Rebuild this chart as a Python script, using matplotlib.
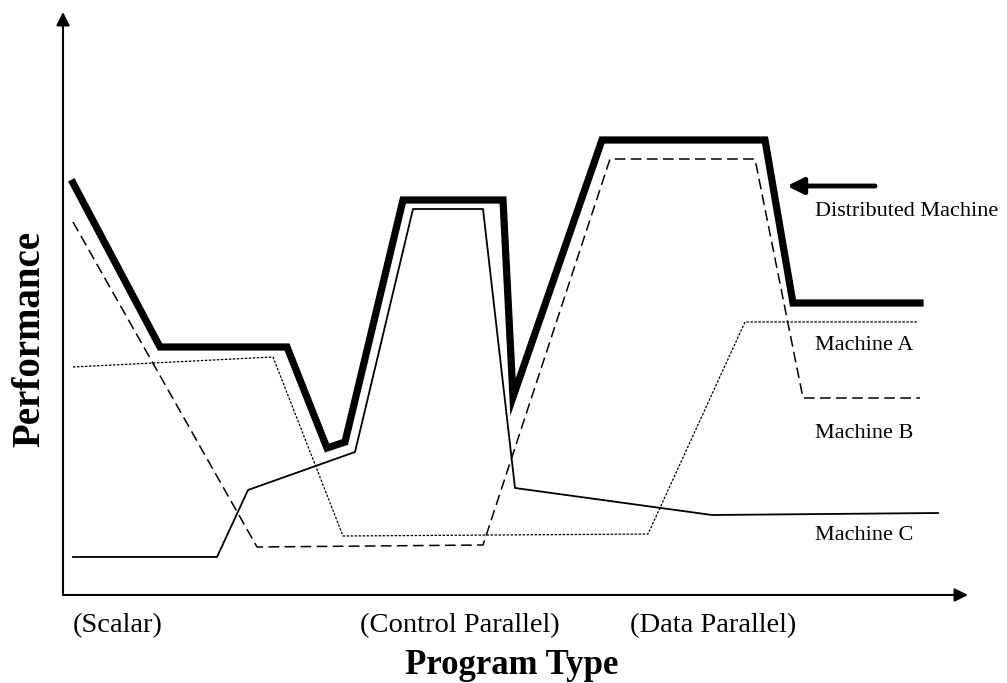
import matplotlib
matplotlib.use("Agg")
import matplotlib.pyplot as plt

# Series (x along program type axis, y = performance)
dist_x = [10, 97, 224, 264, 282, 340, 440, 450, 539, 702, 730, 857]
dist_y = [412, 248, 248, 147, 153, 395, 395, 198, 455, 455, 292, 292]

a_x = [10, 210, 280, 585, 682, 855]
a_y = [228, 238, 59, 61, 273, 273]

b_x = [10, 194, 420, 547, 692, 740, 857]
b_y = [373, 48, 50, 436, 436, 197, 197]

c_x = [10, 154, 185, 292, 350, 420, 452, 649, 875]
c_y = [38, 38, 105, 143, 386, 386, 107, 80, 82]

tick_pos = [55, 397, 650]
tick_labels = ["(Scalar)", "(Control Parallel)", "(Data Parallel)"]

series_labels = ["Distributed Machine", "Machine A", "Machine B", "Machine C"]
label_y = [384, 250, 162, 59]

plt.rcParams['font.family'] = ['Liberation Serif', 'DejaVu Serif']

fig = plt.figure(figsize=(10.07, 6.83), dpi=100)
W, H = 1007, 683
ax = fig.add_axes([63 / W, (H - 595) / H, (968 - 63) / W, (595 - 12) / H])
ax.set_xlim(0, 905)
ax.set_ylim(0, 583)
for s in ax.spines.values():
    s.set_visible(False)

# axes with arrows
for tip in [(1, 0), (0, 1)]:
    ax.annotate("", xy=tip, xytext=(0, 0), xycoords="axes fraction",
                arrowprops=dict(arrowstyle="-|>", color="black", lw=1.5,
                                mutation_scale=20, shrinkA=0, shrinkB=0),
                annotation_clip=False)

ax.plot(dist_x, dist_y, color="black", lw=5.2, solid_joinstyle="miter")
ax.plot(a_x, a_y, color="black", lw=0.9, linestyle=(0, (2, 1.2)))
ax.plot(b_x, b_y, color="black", lw=1.1, linestyle=(0, (7, 3.5)))
ax.plot(c_x, c_y, color="black", lw=1.3)

for lab, yy in zip(series_labels, label_y):
    ax.text(752, yy, lab, fontsize=16, ha="left", va="center")

ax.annotate("", xy=(724, 409), xytext=(812, 409), xycoords="data",
            arrowprops=dict(arrowstyle="-|>", color="black", lw=3.5,
                            mutation_scale=24, shrinkA=0, shrinkB=0),
            annotation_clip=False)

ax.set_xticks(tick_pos)
ax.set_xticklabels(tick_labels, fontsize=20.5)
ax.tick_params(axis="x", length=0, pad=13)
ax.set_yticks([])

fig.text(512 / W, 1 - 665 / H, "Program Type", fontsize=25, fontweight="bold",
         ha="center", va="center")
fig.text(30 / W, 1 - 339 / H, "Performance", fontsize=28, fontweight="bold",
         ha="center", va="center", rotation=90)

fig.savefig("out.png", dpi=100)
